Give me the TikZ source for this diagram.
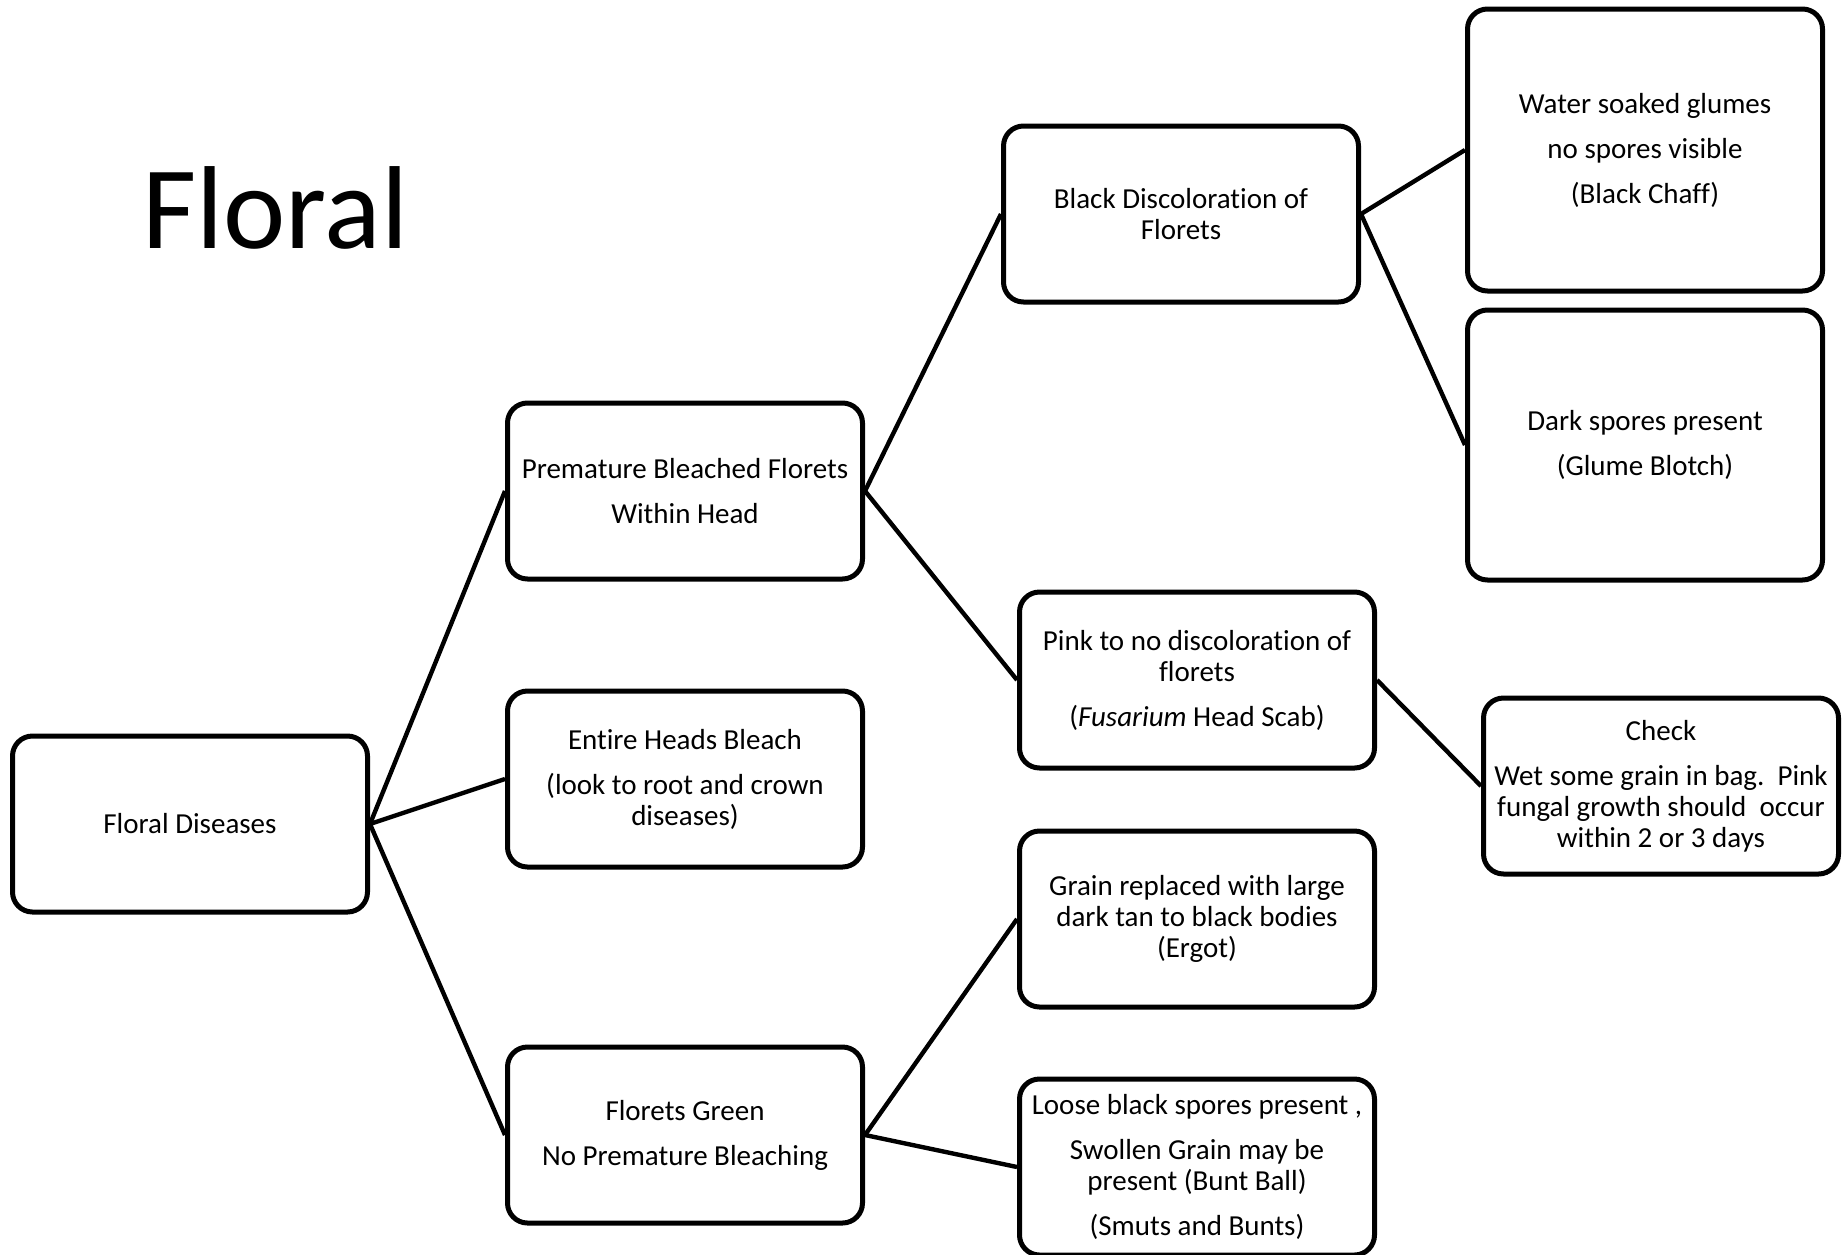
\documentclass[tikz,border=0pt]{standalone}
\usepackage{fontspec}
\setmainfont[Ligatures={NoCommon,NoContextual,NoRequired},Contextuals=NoAlternate]{Carlito}
\begin{document}
\begin{tikzpicture}[x=0.5pt,y=-0.5pt,
  box/.style={draw=black, line width=2.5pt, rounded corners=10pt, fill=white,
    minimum width=177.5pt, minimum height=88pt, inner sep=2pt, align=center,
    font=\fontsize{14.5pt}{15.5pt}\selectfont},
  link/.style={draw=black, line width=2.2pt}]
\useasboundingbox (0,0) rectangle (1848,1254);

% title
\node[anchor=base west, inner sep=0pt, font=\fontsize{59pt}{64pt}\selectfont] (title) at (142,248) {Floral};

% root
\node[box] (root) at (190,824) {Floral Diseases};

% second level
\node[box] (prem) at (685,491) {Premature Bleached Florets\\[7pt]Within Head};
\node[box] (entire) at (685,779) {Entire Heads Bleach\\[7pt](look to root and crown\\diseases)};
\node[box] (green) at (685,1135) {Florets Green\\[7pt]No Premature Bleaching};

% third level
\node[box] (black) at (1181,214) {Black Discoloration of\\Florets};
\node[box] (pink) at (1197,680) {Pink to no discoloration of\\florets\\[7pt](\textit{Fusarium} Head Scab)};
\node[box] (ergot) at (1197,919) {Grain replaced with large\\dark tan to black bodies\\(Ergot)};
\node[box] (smut) at (1197,1167) {Loose black spores present ,\\[7pt]Swollen Grain may be\\present (Bunt Ball)\\[7pt](Smuts and Bunts)};

% fourth level
\node[box, minimum height=141pt] (chaff) at (1645,150) {Water soaked glumes\\[7pt]no spores visible\\[7pt](Black Chaff)};
\node[box, minimum height=135pt] (blotch) at (1645,445) {Dark spores present\\[7pt](Glume Blotch)};
\node[box] (check) at (1661,786) {Check\\[7pt]Wet some grain in bag.\ \ Pink\\fungal growth should\ \ occur\\within 2 or 3 days};

% connectors
\draw[link] (root.east) -- (prem.west);
\draw[link] (root.east) -- (entire.west);
\draw[link] (root.east) -- (green.west);
\draw[link] (prem.east) -- (black.west);
\draw[link] (prem.east) -- (pink.west);
\draw[link] (green.east) -- (ergot.west);
\draw[link] (green.east) -- (smut.west);
\draw[link] (black.east) -- (chaff.west);
\draw[link] (black.east) -- (blotch.west);
\draw[link] (pink.east) -- (check.west);
\end{tikzpicture}
\end{document}
